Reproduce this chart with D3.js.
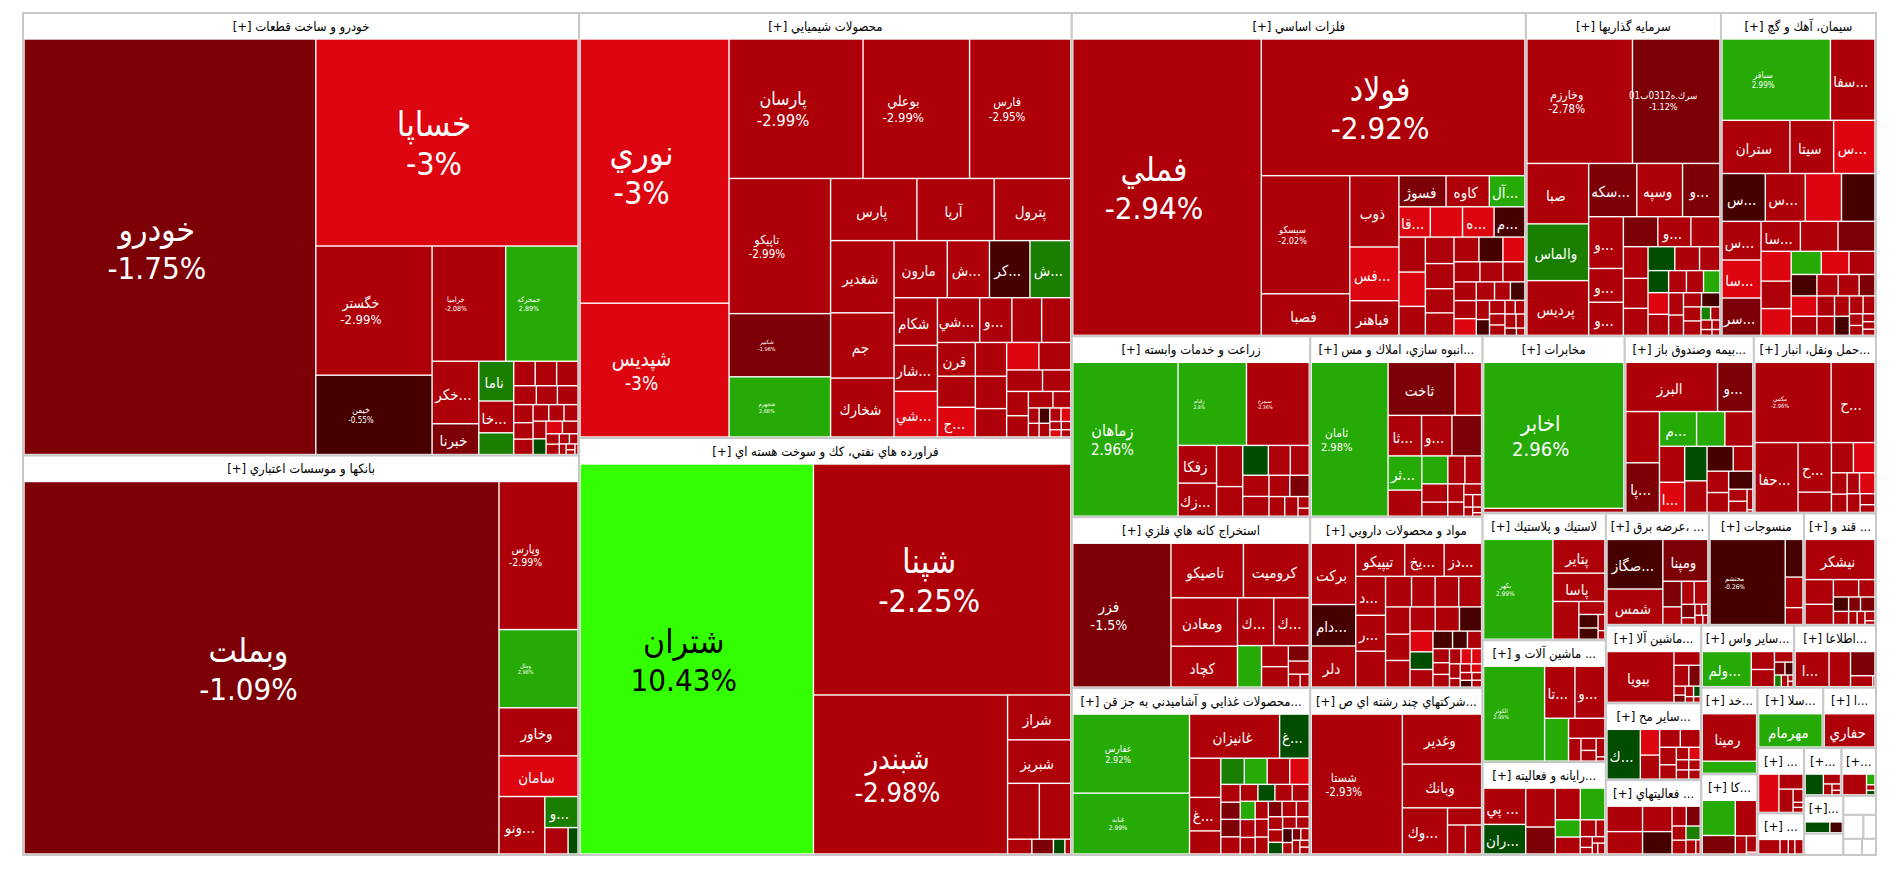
<!DOCTYPE html>
<html>
<head>
<meta charset="utf-8">
<script src="https://cdn.jsdelivr.net/npm/d3@7"></script>
<style>
    body { margin: 0; background: #fff; }
    text { font-family: "DejaVu Sans", sans-serif; font-stretch: condensed; }
</style>
</head>
<body>
<div id="map"></div>
<script>
//Sector titles and sizes, biggest first
const sectorTitles = [
    "خودرو و ساخت قطعات [+]", "بانكها و موسسات اعتباري [+]", "محصولات شيميايي [+]",
    "فراورده هاي نفتي، كك و سوخت هسته اي [+]", "فلزات اساسي [+]", "سرمايه گذاريها [+]",
    "سيمان، آهك و گچ [+]", "زراعت و خدمات وابسته [+]", "استخراج كانه هاي فلزي [+]",
    "...محصولات غذايي و آشاميدني به جز قن [+]", "...انبوه سازي، املاك و مس [+]", "مواد و محصولات دارويي [+]",
    "...شركتهاي چند رشته اي ص [+]", "مخابرات [+]", "...بيمه وصندوق باز [+]", "...حمل ونقل، انبار [+]",
    "لاستيك و پلاستيك [+]", "... ماشين آلات و [+]", "...رايانه و فعاليته [+]", "... ،عرضه برق [+]",
    "منسوجات [+]", "... قند و [+]", "...ماشين آلا [+]", "...ساير مح [+]", "... فعاليتهاي [+]",
    "...ساير واس [+]", "...اطلاعا [+]", "...خد [+]", "...كا [+]", "...سلا [+]", "...ا [+]",
    "... [+]", "... [+]", "...+]", "...+]", "...[+]", "", "", "", "", "", ""
];
const sectorValues = [
    245752, 221844, 209100, 205164, 146642, 62985, 50065, 43078, 40698, 39746, 31132, 29412, 28724,
    25134, 22833, 21594, 15621, 15006, 11439, 11536, 10640, 8064, 7410, 7315, 7125, 5766, 5084,
    4872, 4536, 3960, 3180, 3036, 1932, 1786, 1645, 1482, 836, 620, 480, 300, 300, 225
];

//Stock symbols per sector, "" where the picture shows no name
const stockNames = [
    ["خودرو", "خساپا", "خگستر", "خيمن", "خراميا", "خمحركه", "...خكر", "خبرنا", "ناما", "...خا"],
    ["وبملت", "وپارس", "وملل", "وخاور", "سامان", "...ونو", "...و"],
    ["نوري", "شپديس", "پارسان", "بوعلي", "فارس", "تاپيكو", "شكبير", "شجهرم", "پارس", "آريا", "پترول", "شغدير", "جم", "شخارك", "مارون", "...ش", "...كر", "...ش", "شكام", "...شار", "...شي", "...شي", "...و", "", "", "قرن", "", "...ج"],
    ["شتران", "شپنا", "شبندر", "شراز", "شبريز"],
    ["فملي", "فولاد", "سيسكو", "فصبا", "ذوب", "...فس", "فباهنر", "فسوژ", "كاوه", "...آل", "...قا", "", "...ه", "...م"],
    ["وخارزم", "سرك.ه0312ب01", "صبا", "والماس", "پرديس", "...سكه", "وسپه", "...و", "...و", "...و", "...و", "", "...و"],
    ["سباقر", "...سفا", "ستران", "سيتا", "...س", "...س", "...س", "", "", "...س", "...سا", "...سر", "...سا"],
    ["زماهان", "زقيام", "سيمرغ", "زفكا", "...زك"],
    ["فزر", "تاصيكو", "كروميت", "ومعادن", "كچاد", "...ك", "...ك"],
    ["غفارس", "غنابه", "غانيزان", "...غ", "", "...غ"],
    ["ثامان", "ثاخت", "", "...ثا", "...و", "", "...ثر"],
    ["بركت", "...دام", "دلر", "تيپيكو", "...يخ", "...دز", "...د", "...ر"],
    ["شستا", "وغدير", "وبانك", "...وك"],
    ["اخابر"],
    ["البرز", "...و", "", "...پا", "...م", "", "", "", "...ا"],
    ["مكتبي", "...ح", "...حفا", "...ح"],
    ["بكهر", "پتاير", "پاسا"],
    ["الكوثر", "...تا", "...و"],
    ["... پي", "...ران"],
    ["...صگاز", "شمس", "ومپنا"],
    ["محتشم"],
    ["نيشكر"],
    ["بيويا"],
    ["...ك"],
    [],
    ["...ولم"],
    ["...ا"],
    ["رمينا"],
    [],
    ["مهرمام"],
    ["حفاري"]
];

const stockValues = [
    [946473, 422220, 115500, 70500, 64672, 63640, 21777, 10472, 10120, 8008, 5368, 3640, 3640, 3640, 2915, 2700, 2650, 2350, 2115, 1974, 1692, 1645, 1504, 1488, 1302, 1326, 1258, 832, 832, 600, 500, 400, 260, 200, 150],
    [1375544, 89320, 46690, 28420, 23954, 19488, 7392, 4275, 1725],
    [349180, 175916, 164755, 130725, 124085, 120600, 55800, 53100, 46482, 41541, 41175, 39618, 35712, 32178, 26040, 20496, 19656, 19824, 17514, 16884, 16758, 15982, 12052, 11135, 10873, 10670, 9790, 9350, 8730, 8370, 7290, 7268, 7189, 6283, 4880, 4216, 3658, 3174, 2254, 1189, 1044, 1189, 1044, 1080, 936, 630, 546, 510, 440],
    [809675, 527696, 272921, 24180, 23436, 14924, 14760, 2788, 2460, 1230, 574],
    [495600, 318735, 91350, 31581, 30030, 22451, 14300, 12282, 11214, 9167, 7800, 8008, 7832, 7656, 7600, 7448, 6232, 6150, 5822, 5576, 5166, 4970, 4760, 4340, 4144, 3640, 3472, 3276, 3150, 2898, 2600, 2236, 2028, 1908, 1548, 1537, 1247, 1155, 990, 924, 1120, 864, 544, 384],
    [113880, 94170, 31683, 29714, 28640, 21560, 20482, 16632, 14949, 9603, 9405, 8415, 8075, 7055, 6279, 5934, 5313, 5092, 4690, 3819, 3534, 3477, 3363, 3038, 2914, 2790, 2520, 2280, 1900, 1938, 1824, 1872, 875, 840, 704, 396, 480, 270],
    [75603, 30573, 30492, 19404, 18326, 17236, 15846, 14317, 13205, 12432, 12210, 11988, 9605, 9180, 9010, 7225, 6630, 6460, 5525, 5070, 4745, 4320, 4104, 3816, 3540, 3480, 2580, 2736, 2544, 2280, 2120, 1800, 1550, 1080, 900, 640, 608, 480],
    [141980, 49086, 44955, 12100, 10560, 8880, 6290, 6205, 5270, 4505, 4425, 4125, 3481, 3245, 2365, 1980, 900, 600],
    [123250, 33812, 30652, 27383, 23049, 14456, 14178, 8174, 4500, 4350, 2478, 2065, 1085, 805],
    [79576, 61054, 33750, 10750, 10057, 8544, 5785, 4891, 4745, 4672, 4015, 2646, 2538, 2592, 2538, 2254, 2162, 2208, 2162, 2040, 2000, 1840, 1739, 1739, 1645, 1551, 1628, 1452, 1320, 1295, 1184, 1147, 1056, 960, 759, 660, 660, 690, 400, 400],
    [99844, 29376, 11322, 10904, 9860, 9628, 9212, 6956, 5688, 3634, 3555, 3600, 2736, 2150, 1634, 1344, 726, 726, 506, 286, 154],
    [22250, 14875, 14750, 13020, 10416, 9858, 9213, 8466, 8466, 6192, 5590, 5590, 5418, 5159, 4958, 5025, 4690, 4489, 4087, 3591, 3024, 3024, 2538, 1880, 1786, 1665, 1350, 1485, 1215, 1107, 1044, 1073, 600, 598, 570, 570, 486, 459, 405],
    [108730, 33205, 28854, 17152, 4559, 4018, 3608],
    [181412, 4598],
    [38467, 14443, 14345, 13870, 10600, 8000, 7900, 7350, 6090, 6188, 5642, 5187, 3825, 3600, 3332, 3400, 1628, 1496, 814, 60],
    [52628, 29972, 25584, 13775, 5415, 5307, 5220, 2565, 2166, 1938, 2475, 1815, 1170, 780],
    [59792, 14688, 12240, 8030, 2600, 1950, 1600, 750, 360],
    [48498, 12789, 12642, 8174, 5724, 2079, 1302, 1134, 1122, 198],
    [12705, 10285, 9492, 6468, 6390, 6300, 3360, 3290, 1974, 1081, 896, 512, 528, 364, 504],
    [22842, 16200, 15367, 3640, 2450, 2170, 2340, 1254, 594, 448, 420, 448, 270],
    [53628, 5194, 4165, 2205],
    [22977, 5440, 4400, 3312, 2070, 1554, 1406, 1184, 1470, 735, 665, 598, 200],
    [28032, 2700, 2280, 1710, 660, 510, 550, 425, 264, 204],
    [13299, 3744, 3484, 2736, 2640, 2115, 1710, 1056, 960, 825, 750, 759, 690],
    [7200, 6300, 5904, 5166, 2090, 2035, 1406, 1369, 1406, 950, 380],
    [13300, 2990, 2860, 1325, 868, 651, 476, 448, 154, 132],
    [9215, 5700, 4410, 1701, 108],
    [20655, 5000],
    [9100, 4650, 5800, 1400, 1125, 75],
    [16000],
    [14000],
    [6325, 2814, 2546, 925, 300, 300],
    [2280, 800, 600, 800],
    [3016, 1248, 644, 336, 224],
    [4060, 616, 286, 220],
    [1890, 891],
    [],
    [100],
    [100],
    [],
    [],
    []
];

//Daily change in percent; unlabelled cells estimated from their colour
const stockChanges = [
    [-1.75, -3, -2.99, -0.55, -2.08, 2.89, -2.5, -1.5, 1.5, -2.5, 1.5, -2.5, -2.5, -2.5, -2.5, -2.5, -2.5, -2.5, -2.5, -2.5, -2.5, -2.5, -2.5, -2.5, 0.5, -3, -2.5, -2.5, -2.5, -2.5, -2.5, -2.5, -2.5, -2.5, -2.5],
    [-1.09, -2.99, 2.98, -2.5, -3, -2.5, 1.5, -2.5, 0.5],
    [-3, -3, -2.99, -2.99, -2.95, -2.99, -1.96, 2.88, -2.5, -2.5, -2.5, -2.5, -2.5, -2.5, -2.5, -2.5, -0.5, 1.5, -2.5, -2.5, -3, -2.5, -2.5, -2.5, -2.5, -2.5, -2.5, -3, -2.5, -2.5, -2.5, -3, -2.5, -2.5, -2.5, -2.5, -2.5, -2.5, -2.5, -2.5, -2.5, -0.5, -2.5, -2.5, -3, -2.5, -3, -2.5, -2.5],
    [10.43, -2.25, -2.98, -2.5, -2.5, -2.5, -2.5, -2.5, -1.5, 0.5, -2.5],
    [-2.94, -2.92, -2.02, -2.5, -2.5, -3, -2.5, -1.5, -2.5, 2.5, -3, -3, -3, -0.5, -2.5, -3, -2.5, -2.5, -2.5, -2.5, -2.5, -2.5, -0.5, -3, -2.5, -2.5, -2.5, -2.5, -2.5, -3, -2.5, -2.5, -0.5, -2.5, -0.5, -2.5, -2.5, -2.5, -2.5, -2.5, -2.5, -2.5, -1.5, -2.5],
    [-2.78, -1.12, -2.5, 1.5, -2.5, -1.5, -2.5, -1.5, -2.5, -2.5, -2.5, -1.5, -2.5, -2.5, -2.5, -2.5, -2.5, 0.5, -2.5, -2.5, 0.5, -3, -2.5, -2.5, -2.5, 2.5, -2.5, -2.5, -2.5, -0.5, -2.5, -2.5, 1.5, -2.5, -2.5, -2.5, -2.5, -2.5],
    [2.99, -2.5, -2.5, -2.5, -3, -0.5, -2.5, -3, -0.5, -2.5, -3, -1.5, -2.5, -2.5, -1.5, -3, -2.5, -3, 2.5, -3, -2.5, -0.5, -3, -2.5, -2.5, -2.5, -1.5, -2.5, -2.5, -2.5, -0.5, -2.5, -2.5, -2.5, -2.5, -2.5, -2.5, -2.5],
    [2.96, 2.8, -2.36, -2.5, -2.5, -2.5, -2.5, 0.5, -2.5, -2.5, -2.5, -2.5, -2.5, -1.5, -2.5, -2.5, -2.5, -2.5],
    [-1.5, -2.5, -2.5, -2.5, -2.5, -2.5, -2.5, 2.5, -2.5, -2.5, -1.5, -2.5, -2.5, -2.5],
    [2.92, 2.99, -2.5, 0.5, -2.5, -2.5, -2.5, 1.5, 2.5, -2.5, -3, -2.5, -1.5, -1.5, -2.5, -2.5, 0.5, -2.5, -2.5, 2.5, -2.5, -2.5, -2.5, -2.5, -2.5, -1.5, -2.5, -2.5, -2.5, -2.5, 0.5, -2.5, -2.5, -0.5, -2.5, -1.5, -2.5, -2.5, -2.5, -2.5],
    [2.98, -1.5, -2.5, -2.5, -2.5, -1.5, 2.5, -2.5, 2.5, -2.5, -2.5, -2.5, -2.5, -2.5, -2.5, -2.5, -2.5, -2.5, -2.5, -2.5, -2.5],
    [-2.5, -0.5, -2.5, -2.5, -2.5, -2.5, -2.5, -2.5, -2.5, -2.5, -2.5, -2.5, -2.5, -2.5, -2.5, -2.5, -2.5, -2.5, -0.5, -3, 0.5, -2.5, -0.5, -0.5, -2.5, -2.5, -2.5, -2.5, -2.5, -3, -3, -2.5, -2.5, -2.5, -3, -2.5, -0.5, -2.5, -2.5],
    [-2.93, -2.5, -2.5, -2.5, -2.5, -2.5, -2.5],
    [2.96, -2.5],
    [-2.5, -1.5, -2.5, -1.5, 2.5, 2.5, -2.5, -2.5, -3, 0.5, -2.5, -0.5, -2.5, -2.5, -2.5, -0.5, -2.5, -2.5, -2.5, -2.5],
    [-2.96, -2.5, -2.5, -2.5, -2.5, -2.5, -3, -2.5, -2.5, -2.5, -3, -2.5, -2.5, -2.5],
    [2.99, -2.5, -2.5, -2.5, -2.5, -0.5, -0.5, -2.5, -2.5],
    [2.99, -2.5, -2.5, 2.5, -2.5, -2.5, -2.5, -2.5, -2.5, -2.5],
    [-2.5, 0.5, -2.5, -1.5, -2.5, 2.5, 2.5, -2.5, -2.5, -2.5, -2.5, -2.5, -2.5, -2.5, -2.5],
    [-0.5, -2.5, -1.5, -1.5, -2.5, -2.5, -2.5, -1.5, -2.5, -2.5, -2.5, -2.5, -2.5],
    [-0.26, -0.5, -2.5, -2.5],
    [-2.5, -2.5, -2.5, -2.5, -2.5, -0.5, -2.5, -1.5, -1.5, -2.5, -2.5, -2.5, -2.5],
    [-2.5, -2.5, -2.5, -1.5, -2.5, -1.5, -2.5, 0.5, -2.5, -2.5],
    [0.5, -3, -2.5, -2.5, -2.5, -2.5, -2.5, -2.5, -3, -2.5, -2.5, -2.5, -2.5],
    [-2.5, -2.5, -2.5, -0.5, -2.5, -1.5, -2.5, -2.5, 1.5, -2.5, -2.5],
    [2.5, -2.5, -2.5, -2.5, -1.5, -0.5, 1.5, -2.5, -2.5, -2.5],
    [-2.5, -2.5, -1.5, -2.5, -2.5],
    [-2.5, 2.5],
    [2.5, -1.5, -2.5, -2.5, -2.5, -2.5],
    [2.5],
    [-2.5],
    [-3, -2.5, -2.5, -2.5, -2.5, -2.5],
    [-2.5, -2.5, -2.5, -2.5],
    [0.5, -2.5, -2.5, -2.5, -2.5],
    [-2.5, 2.5, -2.5, 0.5],
    [0.5, -0.5],
    [],
    [-2.5],
    [-2.5],
    [],
    [],
    []
];

//Cells that carry a percent label, with their font size
const pctLabels = {
    "خودرو": 31, "خساپا": 32, "خگستر": 13, "خيمن": 8, "خراميا": 7, "خمحركه": 7,
    "وبملت": 31, "وپارس": 10.5, "وملل": 5.5,
    "نوري": 32, "شپديس": 19, "پارسان": 16.5, "بوعلي": 13, "فارس": 11.5, "تاپيكو": 11.5, "شكبير": 5.5, "شجهرم": 5.5,
    "شتران": 31, "شپنا": 32, "شبندر": 27,
    "فملي": 31, "فولاد": 31, "سيسكو": 9,
    "وخارزم": 11.5, "سرك.ه0312ب01": 9, "سباقر": 8,
    "زماهان": 15, "زقيام": 5, "سيمرغ": 5, "فزر": 14, "غفارس": 9, "غنابه": 6.5,
    "ثامان": 11, "شستا": 11.5, "اخابر": 20, "مكتبي": 5.7, "بكهر": 6.5, "الكوثر": 5.5, "محتشم": 6.5
};

function main() {
    const margin = {l: 23, t: 13};
    const width = 1853;
    const height = 842;
    const headerH = 25;
    const gap = 0.7;
    //Areas were read on a 3x crop with the white lines left out, so add the line width back
    const lineInCrop = 4;

    const svg = d3.select("#map").append("svg")
        .attr("width", 1900)
        .attr("height", 873);
    const map = svg.append("g").attr("transform", `translate(${margin.l}, ${margin.t})`);

    const colorScale = d3.scaleThreshold()
        .domain([-2.999, -2, -1, 0, 1, 2, 5])
        .range(["#dc0510", "#ae0008", "#7d0006", "#470000", "#004d00", "#1a7f00", "#26aa06", "#33ff00"]);

    const tile = d3.treemapSquarify.ratio(1);

    //Top level: one box per sector
    const root = d3.hierarchy({children: sectorValues.map((v, i) => ({i: i, value: v}))})
        .sum(d => d.value || 0);
    d3.treemap().tile(tile).size([width, height])(root);

    const sectors = map.selectAll("g.sector")
        .data(root.leaves())
        .enter().append("g")
        .attr("class", "sector")
        .attr("transform", d => `translate(${d.x0}, ${d.y0})`);

    sectors.append("rect")
        .attr("width", d => d.x1 - d.x0)
        .attr("height", d => d.y1 - d.y0)
        .attr("fill", "#fff")
        .attr("stroke", "#c8c8c8")
        .attr("stroke-width", 2);

    sectors.append("text")
        .attr("x", d => (d.x1 - d.x0) / 2)
        .attr("y", 13)
        .attr("dy", "0.35em")
        .attr("text-anchor", "middle")
        .attr("direction", "rtl")
        .style("font-size", "13px")
        .attr("fill", "#000")
        .text(d => sectorTitles[d.data.i]);

    //Second level: stocks inside the box, under the header
    sectors.each(function(s) {
        const i = s.data.i;
        const innerW = s.x1 - s.x0 - 2;
        const innerH = s.y1 - s.y0 - headerH - 2;
        const values = stockValues[i] || [];
        if (innerH <= 0 || values.length === 0) return;

        const names = stockNames[i] || [];
        const changes = stockChanges[i];
        const sub = d3.hierarchy({children: values.map((v, j) => ({
            value: v, name: names[j] || "", change: changes[j]
        }))}).sum(d => d.value ? (Math.sqrt(d.value) + lineInCrop) ** 2 : 0);
        d3.treemap().tile(tile).size([innerW, innerH])(sub);

        const cells = d3.select(this).append("g")
            .attr("transform", `translate(1, ${headerH + 1})`)
            .selectAll("g")
            .data(sub.leaves())
            .enter().append("g")
            .attr("transform", d => `translate(${d.x0}, ${d.y0})`);

        cells.append("rect")
            .attr("x", gap)
            .attr("y", gap)
            .attr("width", d => Math.max(0, d.x1 - d.x0 - 2 * gap))
            .attr("height", d => Math.max(0, d.y1 - d.y0 - 2 * gap))
            .attr("fill", d => colorScale(d.data.change));

        const labelColor = d => d.data.change > 5 ? "#000" : "#fff";

        //Names without percent
        cells.filter(d => d.data.name && !pctLabels[d.data.name])
            .append("text")
            .attr("x", d => (d.x1 - d.x0) / 2 - 2)
            .attr("y", d => (d.y1 - d.y0) / 2 + 2)
            .attr("dy", "0.35em")
            .attr("text-anchor", "middle")
            .attr("direction", "rtl")
            .attr("fill", labelColor)
            .style("font-size", "15px")
            .text(d => d.data.name);

        //Names with percent under them
        const big = cells.filter(d => d.data.name && pctLabels[d.data.name]);
        big.append("text")
            .attr("x", d => (d.x1 - d.x0) / 2 - 13)
            .attr("y", d => (d.y1 - d.y0) / 2 - 0.2 * pctLabels[d.data.name])
            .attr("text-anchor", "middle")
            .attr("direction", "rtl")
            .attr("fill", labelColor)
            .style("font-size", d => pctLabels[d.data.name] * 1.08 + "px")
            .text(d => d.data.name);
        big.append("text")
            .attr("x", d => (d.x1 - d.x0) / 2 - 13)
            .attr("y", d => (d.y1 - d.y0) / 2 + 1.03 * pctLabels[d.data.name])
            .attr("text-anchor", "middle")
            .attr("fill", labelColor)
            .style("font-size", d => pctLabels[d.data.name] + "px")
            .text(d => d.data.change + "%");
    });
}

main();
</script>
</body>
</html>
